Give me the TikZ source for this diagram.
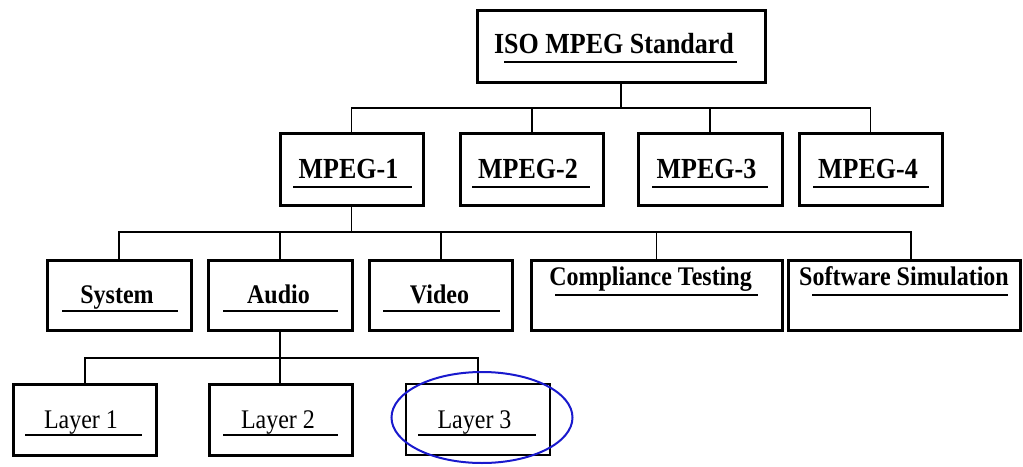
\documentclass[tikz,border=0pt]{standalone}
\usepackage{fontspec}
\usepackage{graphicx}
\setmainfont{Liberation Serif}
\definecolor{markblue}{RGB}{25,25,205}
% labels are set slightly tall and narrow
\newcommand{\tallstr}[1]{\scalebox{1}[1.12]{#1}}
\begin{document}
\begin{tikzpicture}[x=1pt,y=-1pt,
  box/.style={draw=black, line width=3pt, inner sep=0pt, rectangle},
  link/.style={draw=black, line width=1.3pt},
  heavylink/.style={draw=black, line width=2pt},
  uline/.style={draw=black, line width=2.3pt},
  lbl/.style={anchor=base, inner sep=0pt},
  big/.style={lbl, font=\fontsize{26}{30}\selectfont\bfseries},
  mid/.style={lbl, font=\fontsize{24}{28}\selectfont\bfseries},
  plain/.style={lbl, font=\fontsize{24}{28}\selectfont},
]
\useasboundingbox (0,0) rectangle (1023,466);
\fill[white] (0,0) rectangle (1023,466);

% ---- boxes ----
\node[box, minimum width=288pt, minimum height=72pt] (iso) at (621,46) {};

\node[box, minimum width=143pt, minimum height=72pt] (mp1) at (351.5,169) {};
\node[box, minimum width=143pt, minimum height=72pt] (mp2) at (531.5,169) {};
\node[box, minimum width=144pt, minimum height=72pt] (mp3) at (710,169) {};
\node[box, minimum width=143pt, minimum height=72pt] (mp4) at (870.5,169) {};

\node[box, minimum width=144pt, minimum height=70pt] (sys)  at (119,295) {};
\node[box, minimum width=144pt, minimum height=70pt] (aud)  at (280,295) {};
\node[box, minimum width=143pt, minimum height=70pt] (vid)  at (440.5,295) {};
\node[box, minimum width=251pt, minimum height=70pt] (comp) at (656.5,295) {};
\node[box, minimum width=232pt, minimum height=70pt] (soft) at (904,295) {};

\node[box, minimum width=143pt, minimum height=71pt] (l1) at (84.5,419.5) {};
\node[box, minimum width=143pt, minimum height=71pt] (l2) at (280.5,419.5) {};
\node[box, line width=1.6pt, minimum width=144pt, minimum height=71pt] (l3) at (478,419.5) {};

% ---- labels ----
\node[big] (tiso) at (614,53) {\tallstr{ISO MPEG Standard}};
\node[big] (tmp1) at (348.5,178) {\tallstr{MPEG-1}};
\node[big] (tmp2) at (528,178) {\tallstr{MPEG-2}};
\node[big] (tmp3) at (706.5,178) {\tallstr{MPEG-3}};
\node[big] (tmp4) at (868,178) {\tallstr{MPEG-4}};

\node[mid] (tsys)  at (117,303) {\tallstr{System}};
\node[mid] (taud)  at (278.5,303) {\tallstr{Audio}};
\node[mid] (tvid)  at (439.5,303) {\tallstr{Video}};
\node[mid] (tcomp) at (650.5,285) {\tallstr{Compliance Testing}};
\node[mid] (tsoft) at (904,285) {\tallstr{Software Simulation}};

\node[plain] (tl1) at (81,428) {\tallstr{Layer 1}};
\node[plain] (tl2) at (278,428) {\tallstr{Layer 2}};
\node[plain] (tl3) at (474.5,428) {\tallstr{Layer 3}};

% ---- underlines ----
\draw[uline] (504,62) -- (737,62);
\draw[uline] (293,187) -- (412,187);
\draw[uline] (472,187) -- (590,187);
\draw[uline] (652,187) -- (768,187);
\draw[uline] (813,187) -- (929,187);
\draw[uline] (62,311) -- (178,311);
\draw[uline] (223,311) -- (338,311);
\draw[uline] (383,311) -- (500,311);
\draw[uline] (555,295) -- (758,295);
\draw[uline] (812,295) -- (1008,295);
\draw[uline] (25,435) -- (142,435);
\draw[uline] (223,435) -- (338,435);
\draw[uline] (418,435) -- (536,435);

% ---- tree connectors ----
\coordinate (b1) at (0,108);
\coordinate (b2) at (0,232);
\coordinate (b3) at (0,358);

\draw[link] (iso.south) -- (iso.south |- b1);
\draw[link] (mp1.north) -- (mp1.north |- b1) -- (mp4.north |- b1) -- (mp4.north);
\draw[heavylink] (mp2.north) -- (mp2.north |- b1);
\draw[link] (mp3.north) -- (mp3.north |- b1);

\draw[link] (mp1.south) -- (mp1.south |- b2);
\draw[link] (sys.north) -- (sys.north |- b2) -- ([xshift=7pt]soft.north |- b2) -- ([xshift=7pt]soft.north);
\draw[link] (aud.north) -- (aud.north |- b2);
\draw[heavylink] (vid.north) -- (vid.north |- b2);
\draw[link] (comp.north) -- (comp.north |- b2);

\draw[link] (aud.south) -- (aud.south |- l2.north);
\draw[heavylink] (l1.north) -- (l1.north |- b3) -- (l3.north |- b3) -- (l3.north);

% ---- highlight ----
\draw[markblue, line width=2pt] (482,417.5) ellipse [x radius=90.5, y radius=45.5];
\end{tikzpicture}
\end{document}
